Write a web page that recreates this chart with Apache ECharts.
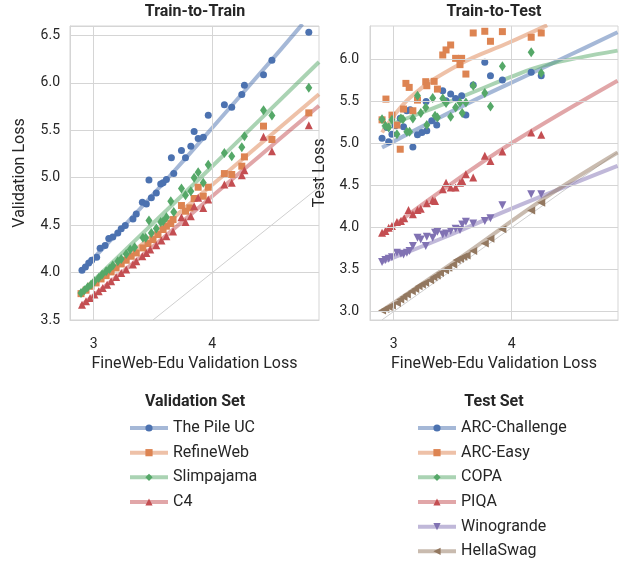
<!DOCTYPE html>
<html><head><meta charset="utf-8">
<script src="https://cdn.jsdelivr.net/npm/echarts@6/dist/echarts.min.js"></script>
<style>html,body{margin:0;padding:0;background:#fff}#c{width:625px;height:563px}</style>
</head><body><div id="c"></div>
<script>
// ---------- Data: Train-to-Train (x = FineWeb-Edu val loss, y = validation loss) ----------
const pilePts = [[2.901,4.025],[2.930,4.060],[2.958,4.102],[2.983,4.130],[3.025,4.162],[3.054,4.257],[3.096,4.285],[3.127,4.359],[3.161,4.376],[3.203,4.418],[3.232,4.461],[3.266,4.496],[3.331,4.566],[3.359,4.619],[3.410,4.742],[3.444,4.724],[3.466,4.977],[3.486,4.788],[3.528,4.840],[3.565,4.935],[3.585,4.946],[3.613,4.981],[3.655,5.210],[3.675,5.044],[3.740,5.287],[3.774,5.210],[3.819,5.333],[3.847,5.487],[3.881,5.414],[3.924,5.428],[3.966,5.660],[4.102,5.769],[4.164,5.744],[4.249,5.878],[4.271,5.976],[4.432,6.085],[4.503,6.240],[4.814,6.535]];
const refinePts = [[2.893,3.778],[2.935,3.814],[2.977,3.856],[3.020,3.891],[3.062,3.933],[3.105,3.968],[3.147,4.007],[3.189,4.049],[3.232,4.091],[3.274,4.130],[3.316,4.172],[3.359,4.207],[3.415,4.260],[3.458,4.306],[3.500,4.348],[3.542,4.401],[3.585,4.454],[3.613,4.489],[3.650,4.517],[3.669,4.559],[3.740,4.707],[3.774,4.647],[3.811,4.682],[3.847,4.781],[3.881,4.900],[3.924,4.805],[3.966,4.900],[4.102,5.044],[4.164,5.034],[4.249,5.122],[4.271,5.220],[4.432,5.544],[4.503,5.403],[4.814,5.684]];
const slimPts = [[2.893,3.786],[2.921,3.814],[2.949,3.845],[2.977,3.873],[3.006,3.909],[3.042,3.944],[3.071,3.979],[3.105,4.014],[3.133,4.039],[3.161,4.074],[3.203,4.120],[3.232,4.144],[3.274,4.197],[3.308,4.243],[3.345,4.267],[3.415,4.366],[3.438,4.366],[3.466,4.549],[3.486,4.418],[3.528,4.464],[3.565,4.534],[3.585,4.541],[3.613,4.584],[3.650,4.752],[3.675,4.640],[3.740,4.886],[3.774,4.816],[3.819,4.858],[3.847,4.999],[3.881,5.058],[3.924,4.946],[3.966,5.136],[4.102,5.262],[4.164,5.227],[4.249,5.322],[4.271,5.438],[4.432,5.712],[4.503,5.656],[4.814,5.948]];
const c4Pts = [[2.901,3.662],[2.935,3.698],[2.969,3.733],[3.006,3.768],[3.042,3.803],[3.076,3.838],[3.113,3.873],[3.147,3.909],[3.189,3.954],[3.232,3.996],[3.274,4.032],[3.331,4.084],[3.359,4.120],[3.410,4.172],[3.444,4.207],[3.477,4.243],[3.528,4.288],[3.571,4.338],[3.613,4.383],[3.669,4.432],[3.740,4.584],[3.774,4.534],[3.819,4.594],[3.847,4.700],[3.881,4.788],[3.924,4.682],[3.966,4.770],[4.102,4.928],[4.164,4.946],[4.249,5.027],[4.271,5.079],[4.432,5.431],[4.503,5.280],[4.814,5.554]];
// fitted curves
const pileFit = [[2.89,4.01],[3.3,4.55],[3.7,5.10],[4.1,5.67],[4.5,6.24],[4.76,6.62]];
const refineFit = [[2.89,3.775],[3.4,4.29],[3.9,4.82],[4.4,5.35],[4.9,5.88]];
const slimFit = [[2.89,3.785],[3.4,4.40],[3.9,5.00],[4.4,5.61],[4.9,6.22]];
const c4Fit = [[2.89,3.65],[3.4,4.17],[3.9,4.70],[4.4,5.23],[4.9,5.76]];
const diagTrain = [[3.5,3.5],[4.9,4.9]];

// ---------- Data: Train-to-Test (y = test loss) ----------
const arcCPts = [[2.902,5.064],[2.944,5.192],[2.958,5.021],[2.986,5.112],[3.014,5.212],[3.056,5.303],[3.084,5.200],[3.112,5.391],[3.140,5.403],[3.163,4.961],[3.202,5.104],[3.239,5.132],[3.281,5.152],[3.275,5.502],[3.323,5.271],[3.365,5.220],[3.416,5.629],[3.444,5.510],[3.483,5.590],[3.525,5.538],[3.576,5.570],[3.612,5.339],[3.674,5.697],[3.772,5.967],[3.820,5.808],[3.921,5.757],[4.165,5.848],[4.250,5.808]];
const arcEPts = [[2.902,5.283],[2.935,5.530],[2.986,5.339],[3.028,5.220],[3.056,4.933],[3.084,5.411],[3.104,5.717],[3.132,5.669],[3.163,5.391],[3.202,5.518],[3.272,5.737],[3.281,5.689],[3.343,5.741],[3.371,5.649],[3.416,6.055],[3.444,6.115],[3.483,6.174],[3.525,6.015],[3.562,5.940],[3.576,6.015],[3.612,5.828],[3.674,6.317],[3.772,6.337],[3.820,6.218],[3.921,6.333],[4.165,6.266],[4.250,6.317]];
const copaPts = [[2.902,5.291],[2.930,5.212],[2.958,5.192],[2.986,5.283],[3.028,5.112],[3.062,5.299],[3.079,5.291],[3.112,5.140],[3.135,5.140],[3.163,5.299],[3.202,5.570],[3.230,5.363],[3.272,5.430],[3.281,5.220],[3.331,5.542],[3.351,5.331],[3.371,5.311],[3.416,5.538],[3.444,5.482],[3.483,5.319],[3.525,5.430],[3.562,5.490],[3.581,5.363],[3.612,5.490],[3.674,5.689],[3.772,5.601],[3.820,5.442],[3.921,5.920],[4.165,6.087],[4.250,5.840]];
const piqaPts = [[2.902,3.939],[2.930,3.959],[2.958,3.998],[2.986,4.018],[3.028,4.066],[3.062,4.078],[3.090,4.110],[3.126,4.209],[3.163,4.158],[3.202,4.209],[3.230,4.225],[3.281,4.289],[3.331,4.325],[3.351,4.317],[3.416,4.456],[3.444,4.535],[3.483,4.476],[3.525,4.476],[3.562,4.535],[3.581,4.555],[3.612,4.635],[3.674,4.595],[3.772,4.854],[3.820,4.794],[3.921,4.905],[4.165,5.132],[4.250,5.104]];
const winoPts = [[2.902,3.589],[2.930,3.613],[2.958,3.628],[2.986,3.648],[3.028,3.700],[3.062,3.688],[3.084,3.680],[3.112,3.700],[3.135,3.720],[3.163,3.780],[3.202,3.879],[3.230,3.859],[3.272,3.780],[3.281,3.891],[3.331,3.879],[3.351,3.939],[3.371,3.951],[3.416,3.919],[3.444,3.931],[3.483,3.959],[3.525,3.986],[3.562,3.971],[3.581,4.038],[3.612,4.070],[3.674,4.050],[3.772,4.078],[3.820,4.110],[3.921,4.265],[4.165,4.396],[4.250,4.396]];
const hellaPts = [[2.902,3.012],[2.930,3.032],[2.958,3.056],[2.986,3.072],[3.028,3.103],[3.056,3.143],[3.084,3.175],[3.112,3.203],[3.154,3.243],[3.183,3.270],[3.211,3.302],[3.239,3.322],[3.267,3.342],[3.309,3.374],[3.337,3.410],[3.365,3.430],[3.393,3.461],[3.435,3.493],[3.463,3.521],[3.505,3.561],[3.534,3.613],[3.562,3.628],[3.590,3.652],[3.618,3.668],[3.674,3.720],[3.772,3.811],[3.820,3.867],[3.921,3.979],[4.165,4.205],[4.250,4.297]];
const arcCFit = [[2.902,4.953],[3.281,5.232],[3.702,5.530],[4.123,5.808],[4.5,6.06],[4.896,6.325]];
const arcEFit = [[2.902,5.132],[3.140,5.550],[3.562,5.947],[3.983,6.206],[4.30,6.41]];
const copaFit = [[2.902,5.192],[3.281,5.391],[3.702,5.629],[3.983,5.788],[4.264,5.928],[4.896,6.107]];
const piqaFit = [[2.902,3.919],[3.421,4.456],[3.983,4.993],[4.896,5.749]];
const winoFit = [[2.902,3.589],[3.421,3.879],[3.983,4.217],[4.896,4.734]];
const hellaFit = [[2.902,3.012],[3.562,3.640],[4.264,4.337],[4.896,4.893]];
const diagTest = [[2.9,2.9],[4.9,4.9]];

// tick values / gridline positions
const xTickVals = [3, 4];
const testYTickVals = [3.0, 3.5, 4.0, 4.5, 5.0, 5.5, 6.0];

const trainNames = ['The Pile UC','RefineWeb','Slimpajama','C4'];
const testNames = ['ARC-Challenge','ARC-Easy','COPA','PIQA','Winogrande','HellaSwag'];

const C = {blue:'#4C72B0', orange:'#DD8452', green:'#55A868', red:'#C44E52', purple:'#8172B3', brown:'#937860'};
const FONT = 'Roboto';
const TXT = '#262626';
const GRIDC = '#d5d5d5';

function fitSeries(name, data, color, symbol, rot, gi) {
  return {type:'line', name, data, xAxisIndex:gi, yAxisIndex:gi, smooth:0.4, showSymbol:false,
    symbol, symbolRotate:rot, itemStyle:{color}, lineStyle:{color, width:4, opacity:0.5},
    z:2, silent:true, animation:false};
}
function ptSeries(name, data, color, symbol, size, rot, gi) {
  return {type:'scatter', name, data, xAxisIndex:gi, yAxisIndex:gi, symbol, symbolSize:size,
    symbolRotate:rot, itemStyle:{color, opacity:1}, z:3, silent:true, animation:false};
}
function diag(data, gi, gridLines) {
  return {type:'line', data, xAxisIndex:gi, yAxisIndex:gi, showSymbol:false, symbol:'none',
    lineStyle:{color:'#cfcfcf', width:1}, z:1, silent:true, animation:false,
    markLine:{silent:true, symbol:'none', animation:false, label:{show:false},
      lineStyle:{color:GRIDC, width:1, type:'solid'}, data:gridLines}};
}

const axisCommon = {
  axisLine:{show:true, lineStyle:{color:GRIDC, width:1}},
  axisTick:{show:false},
};
function xAx(gi) {
  return Object.assign({type:'value', gridIndex:gi, min:2.8, max:4.9, interval:0.1,
    name:'FineWeb-Edu Validation Loss', nameLocation:'middle', nameGap:34,
    nameTextStyle:{fontFamily:FONT, fontSize:16, color:TXT},
    splitLine:{show:false},
    axisLabel:{fontFamily:FONT, fontSize:14, color:TXT, margin:17, hideOverlap:false,
      formatter:v => (Math.abs(v-Math.round(v))<1e-6 ? String(Math.round(v)) : '')}}, axisCommon);
}
function legendCfg(names, left) {
  return {orient:'vertical', data:names, left, top:414, height:160, itemWidth:38, itemHeight:9,
    itemGap:6.67, itemTextGap:13, selectedMode:false,
    textStyle:{fontFamily:FONT, fontSize:16, color:TXT, lineHeight:18},
    lineStyle:{width:4, opacity:0.5}, itemStyle:{opacity:1}};
}

const option = {
  backgroundColor:'#fff',
  animation:false,
  grid:[
    {left:70, top:26, width:249, height:294, show:true, borderColor:GRIDC, borderWidth:1, backgroundColor:'transparent'},
    {left:370, top:26, width:248, height:294, show:true, borderColor:GRIDC, borderWidth:1, backgroundColor:'transparent'}
  ],
  xAxis:[xAx(0), xAx(1)],
  yAxis:[
    Object.assign({type:'value', gridIndex:0, min:3.5, max:6.6, interval:0.5,
      name:'Validation Loss', nameLocation:'middle', nameGap:42,
      nameTextStyle:{fontFamily:FONT, fontSize:16, color:TXT},
      splitLine:{show:true, lineStyle:{color:GRIDC, width:1}},
      axisLabel:{fontFamily:FONT, fontSize:14, color:TXT, margin:10, showMaxLabel:false,
        formatter:v => v.toFixed(1)}}, axisCommon),
    Object.assign({type:'value', gridIndex:1, min:2.9, max:6.4, interval:0.1,
      name:'Test Loss', nameLocation:'middle', nameGap:42,
      nameTextStyle:{fontFamily:FONT, fontSize:16, color:TXT},
      splitLine:{show:false},
      axisLabel:{fontFamily:FONT, fontSize:14, color:TXT, margin:11, hideOverlap:false,
        formatter:v => (Math.abs(v*2-Math.round(v*2))<1e-6 ? v.toFixed(1) : '')}}, axisCommon)
  ],
  legend:[legendCfg(trainNames, 123), legendCfg(testNames, 411)],
  graphic:[
    {type:'text', x:195, y:12, style:{text:'Train-to-Train', font:'bold 16px '+FONT, fill:TXT, textAlign:'center', textVerticalAlign:'middle'}},
    {type:'text', x:494, y:12, style:{text:'Train-to-Test', font:'bold 16px '+FONT, fill:TXT, textAlign:'center', textVerticalAlign:'middle'}},
    {type:'text', x:195, y:402, style:{text:'Validation Set', font:'bold 16px '+FONT, fill:TXT, textAlign:'center', textVerticalAlign:'middle'}},
    {type:'text', x:494, y:402, style:{text:'Test Set', font:'bold 16px '+FONT, fill:TXT, textAlign:'center', textVerticalAlign:'middle'}}
  ],
  series:[
    fitSeries('The Pile UC', pileFit, C.blue, 'circle', 0, 0),
    fitSeries('RefineWeb', refineFit, C.orange, 'rect', 0, 0),
    fitSeries('Slimpajama', slimFit, C.green, 'diamond', 0, 0),
    fitSeries('C4', c4Fit, C.red, 'triangle', 0, 0),
    ptSeries('The Pile UC', pilePts, C.blue, 'circle', 7, 0, 0),
    ptSeries('RefineWeb', refinePts, C.orange, 'rect', 7, 0, 0),
    ptSeries('Slimpajama', slimPts, C.green, 'diamond', [7,10], 0, 0),
    ptSeries('C4', c4Pts, C.red, 'triangle', 8, 0, 0),
    diag(diagTrain, 0, xTickVals.map(v => ({xAxis:v}))),
    fitSeries('ARC-Challenge', arcCFit, C.blue, 'circle', 0, 1),
    fitSeries('ARC-Easy', arcEFit, C.orange, 'rect', 0, 1),
    fitSeries('COPA', copaFit, C.green, 'diamond', 0, 1),
    fitSeries('PIQA', piqaFit, C.red, 'triangle', 0, 1),
    fitSeries('Winogrande', winoFit, C.purple, 'triangle', 180, 1),
    fitSeries('HellaSwag', hellaFit, C.brown, 'triangle', 90, 1),
    ptSeries('ARC-Challenge', arcCPts, C.blue, 'circle', 7, 0, 1),
    ptSeries('ARC-Easy', arcEPts, C.orange, 'rect', 7, 0, 1),
    ptSeries('COPA', copaPts, C.green, 'diamond', [7,10], 0, 1),
    ptSeries('PIQA', piqaPts, C.red, 'triangle', 8, 0, 1),
    ptSeries('Winogrande', winoPts, C.purple, 'triangle', 8, 180, 1),
    ptSeries('HellaSwag', hellaPts, C.brown, 'triangle', 8, 90, 1),
    diag(diagTest, 1, xTickVals.map(v => ({xAxis:v})).concat(testYTickVals.map(v => ({yAxis:v}))))
  ]
};
const chart = echarts.init(document.getElementById('c'), null, {renderer:'canvas'});
chart.setOption(option);
</script></body></html>
